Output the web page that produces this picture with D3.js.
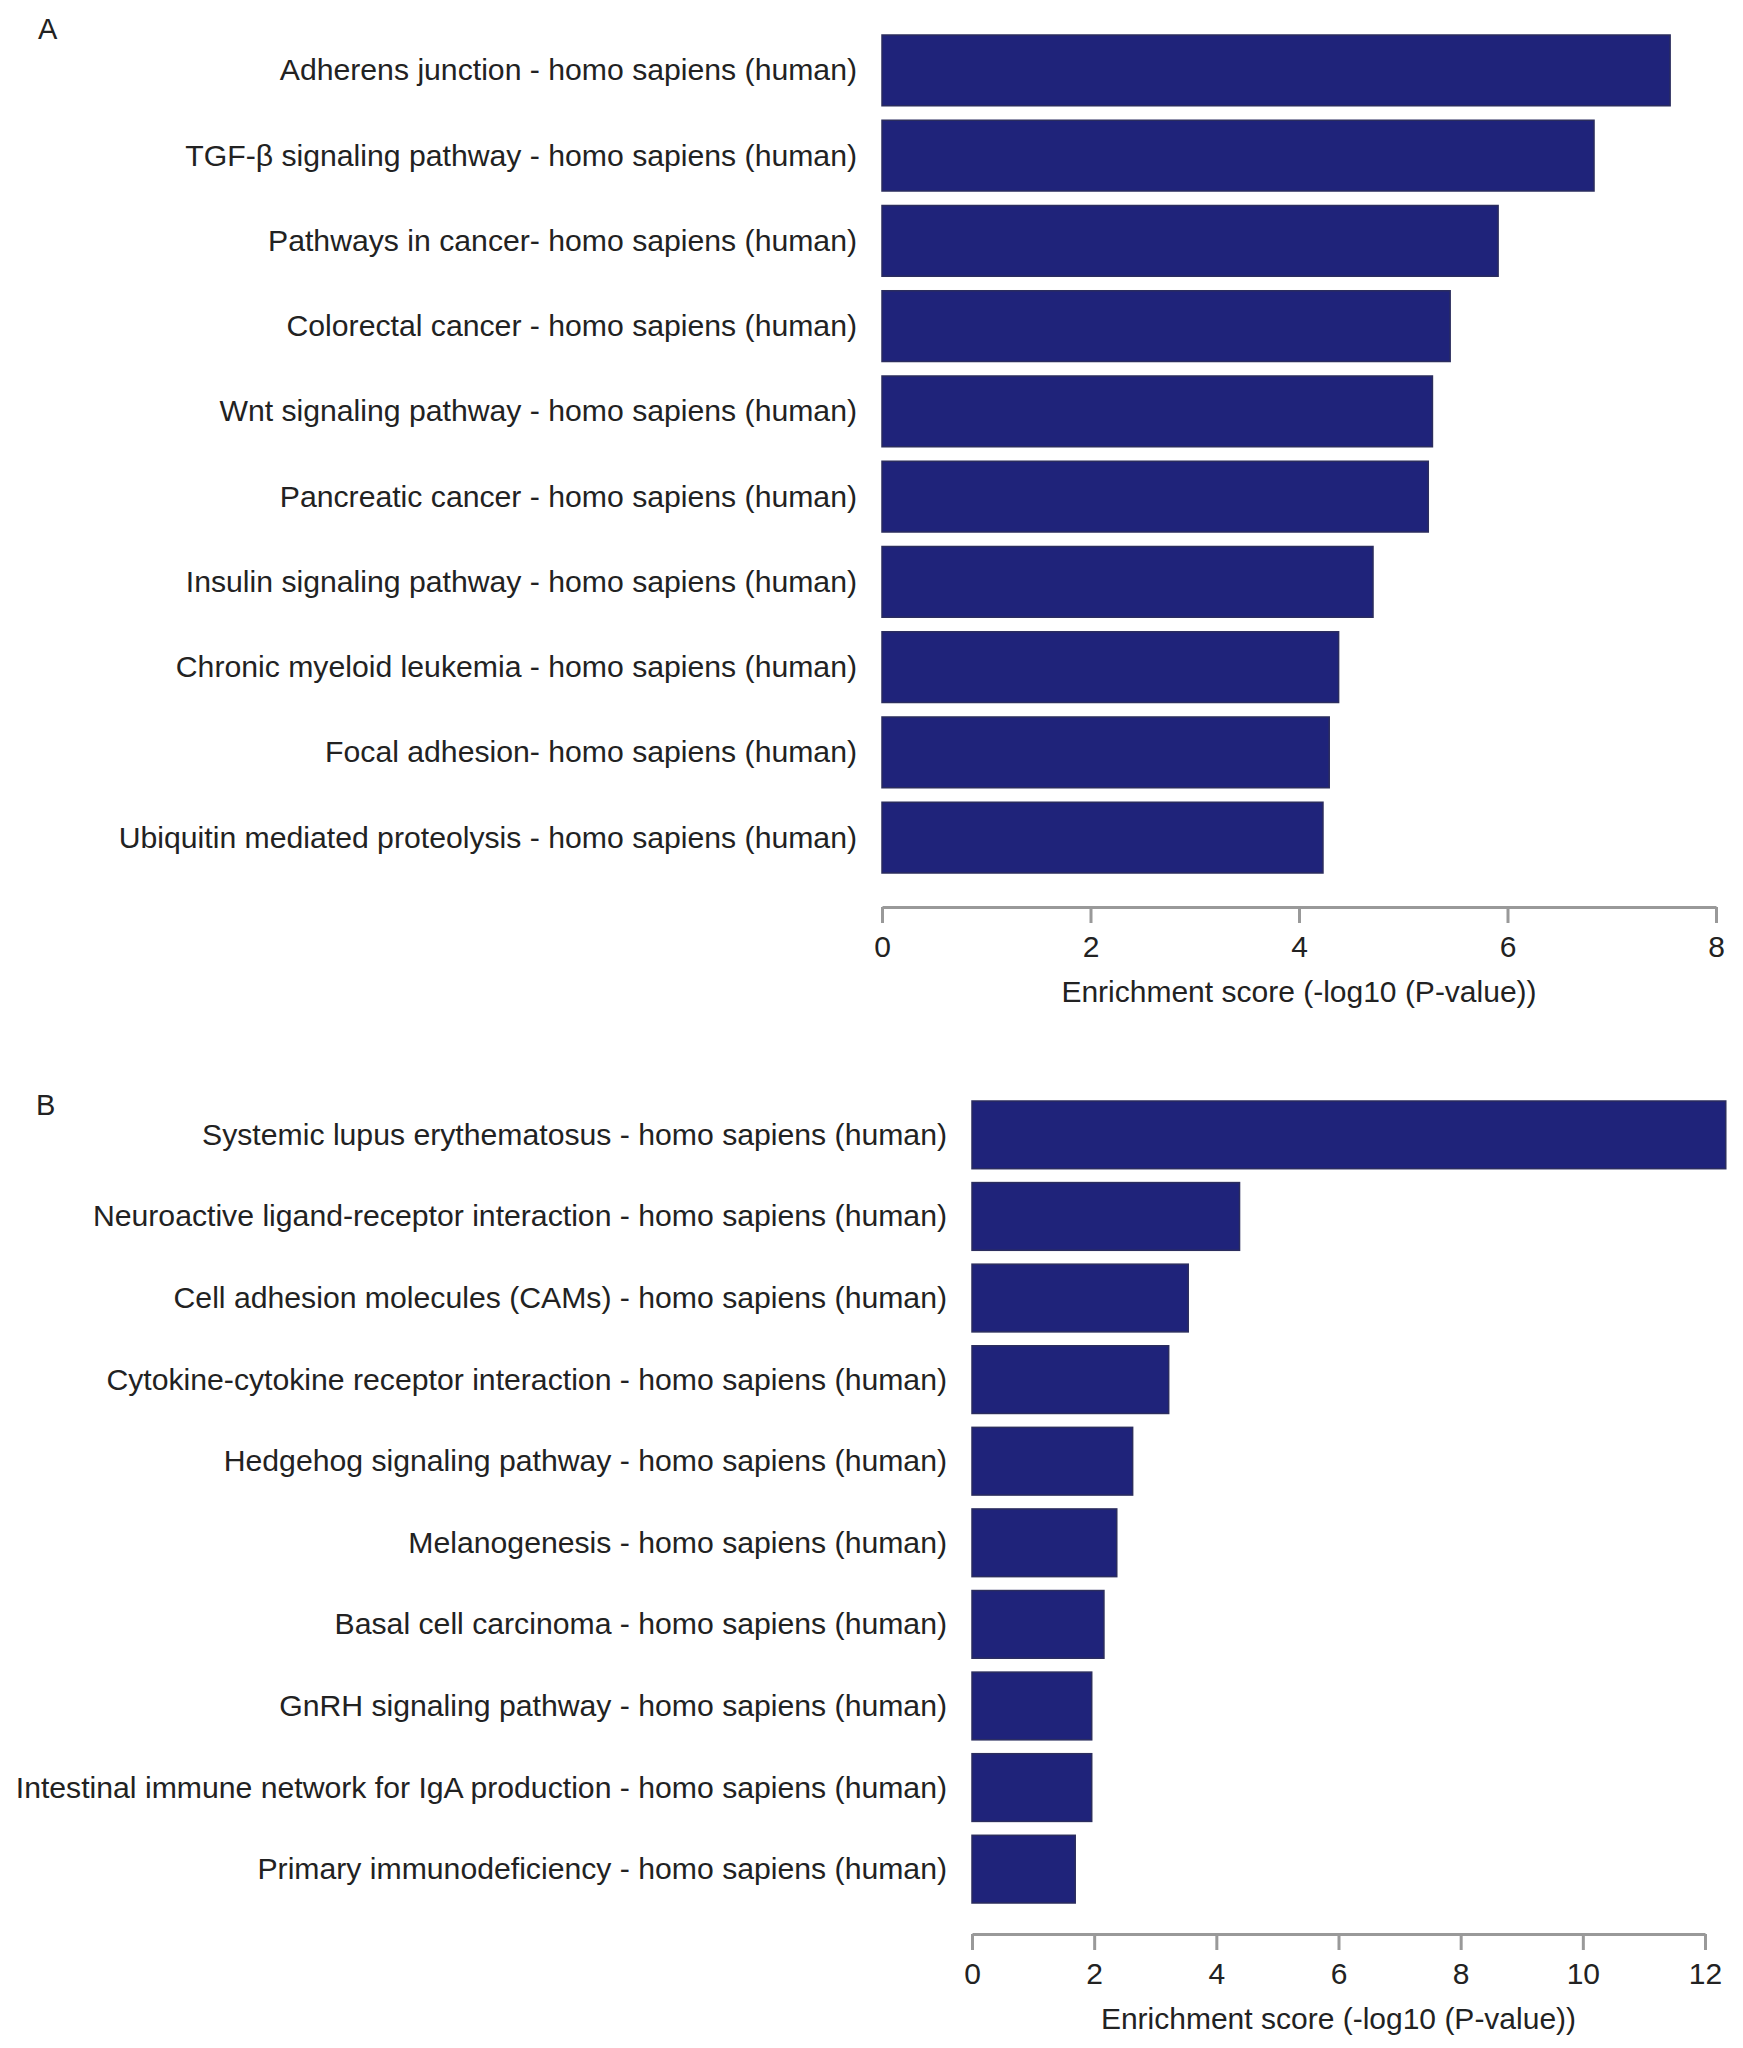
<!DOCTYPE html>
<html>
<head>
<meta charset="utf-8">
<script src="https://cdn.jsdelivr.net/npm/d3@7"></script>
<style>
  body { margin: 0; background: #fff; }
  text { font-family: "Liberation Sans", Arial, sans-serif; }
</style>
</head>
<body>
<div id="chart-area"></div>
<script>
// Panel A data
const pathwaysA = [
  "Adherens junction - homo sapiens (human)",
  "TGF-\u03b2 signaling pathway - homo sapiens (human)",
  "Pathways in cancer- homo sapiens (human)",
  "Colorectal cancer - homo sapiens (human)",
  "Wnt signaling pathway - homo sapiens (human)",
  "Pancreatic cancer - homo sapiens (human)",
  "Insulin signaling pathway - homo sapiens (human)",
  "Chronic myeloid leukemia - homo sapiens (human)",
  "Focal adhesion- homo sapiens (human)",
  "Ubiquitin mediated proteolysis - homo sapiens (human)"
]
const scoresA = [7.56, 6.83, 5.91, 5.45, 5.28, 5.24, 4.71, 4.38, 4.29, 4.23]
const ticksA = [0, 2, 4, 6, 8]

// Panel B data
const pathwaysB = [
  "Systemic lupus erythematosus - homo sapiens (human)",
  "Neuroactive ligand-receptor interaction - homo sapiens (human)",
  "Cell adhesion molecules (CAMs) - homo sapiens (human)",
  "Cytokine-cytokine receptor interaction - homo sapiens (human)",
  "Hedgehog signaling pathway - homo sapiens (human)",
  "Melanogenesis - homo sapiens (human)",
  "Basal cell carcinoma - homo sapiens (human)",
  "GnRH signaling pathway - homo sapiens (human)",
  "Intestinal immune network for IgA production - homo sapiens (human)",
  "Primary immunodeficiency - homo sapiens (human)"
]
const scoresB = [12.34, 4.38, 3.54, 3.22, 2.63, 2.37, 2.16, 1.96, 1.96, 1.69]
const ticksB = [0, 2, 4, 6, 8, 10, 12]

const axisTitle = "Enrichment score (-log10 (P-value))"

const svg = d3.select("#chart-area")
  .append("svg")
    .attr("width", 1743)
    .attr("height", 2048)

function panel(letter, names, scores, ticks, box) {
  const g = svg.append("g")

  g.append("text")
    .attr("x", box.letterX)
    .attr("y", box.letterY)
    .attr("font-size", 29)
    .attr("fill", "#222")
    .text(letter)

  const x = d3.scaleLinear()
    .domain([0, d3.max(ticks)])
    .range([box.left, box.right])

  const y = d3.scaleBand()
    .domain(names)
    .range([box.top, box.bottom])
    .paddingInner(0.17)
    .paddingOuter(0)

  g.selectAll("rect")
    .data(names)
    .join("rect")
      .attr("x", x(0))
      .attr("y", d => y(d))
      .attr("width", (d, i) => x(scores[i]) - x(0))
      .attr("height", y.bandwidth())
      .attr("fill", "#1f237a")
      .attr("stroke", "#2b2d5e")
      .attr("stroke-width", 1.5)

  g.selectAll(".label")
    .data(names)
    .join("text")
      .attr("class", "label")
      .attr("x", box.left - 25)
      .attr("y", d => y(d) + y.bandwidth() / 2)
      .attr("dy", "0.33em")
      .attr("text-anchor", "end")
      .attr("font-size", 30.2)
      .attr("fill", "#222")
      .text(d => d)

  const axis = g.append("g")
    .attr("transform", `translate(0, ${box.axisY})`)
    .call(d3.axisBottom(x).tickValues(ticks).tickSize(16).tickSizeOuter(0).tickFormat(d3.format("d")))

  axis.select(".domain")
    .attr("stroke", "#999")
    .attr("stroke-width", 3)
  axis.selectAll(".tick line")
    .attr("stroke", "#999")
    .attr("stroke-width", 3)
  axis.selectAll(".tick text")
    .attr("y", 39)
    .attr("dy", "0.36em")
    .attr("font-size", 30)
    .attr("fill", "#222")
    .attr("font-family", null)

  g.append("text")
    .attr("x", (x(0) + x(d3.max(ticks))) / 2)
    .attr("y", box.axisY + 84)
    .attr("dy", "0.36em")
    .attr("text-anchor", "middle")
    .attr("font-size", 30)
    .attr("fill", "#222")
    .text(axisTitle)
}

panel("A", pathwaysA, scoresA, ticksA,
  {left: 882, right: 1716, top: 35, bottom: 873, axisY: 907, letterX: 38, letterY: 39})

panel("B", pathwaysB, scoresB, ticksB,
  {left: 972, right: 1705, top: 1101, bottom: 1903, axisY: 1934, letterX: 36, letterY: 1115})
</script>
</body>
</html>
